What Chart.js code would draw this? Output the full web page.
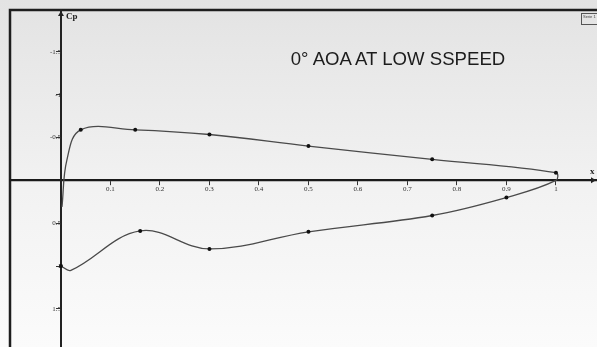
<!DOCTYPE html>
<html>
<head>
<meta charset="utf-8">
<script src="https://cdn.jsdelivr.net/npm/chart.js@4"></script>
<style>
  html, body { margin: 0; padding: 0; }
  body { width: 597px; height: 347px; overflow: hidden;
         background: linear-gradient(#e3e3e3, #f2f2f2 55%, #fbfbfb); }
  #wrap { position: relative; width: 597px; height: 347px; }
  canvas { display: block; }
  #titre { position: absolute; left: 250px; top: 48px; width: 296px; text-align: center;
           font: 18.6px "Liberation Sans", Arial, sans-serif; color: #1c1c1c; white-space: nowrap; }
  #legende { position: absolute; left: 581px; top: 13px; width: 14px; height: 10px;
             border: 1px solid #555; font: 4px "Liberation Sans", sans-serif; color: #444;
             overflow: hidden; line-height: 5px; padding-left: 1px; }
</style>
</head>
<body>
<div id="wrap">
  <canvas id="cp-chart" width="597" height="347"></canvas>
  <div id="titre">0° AOA AT LOW SSPEED</div>
  <div id="legende">Serie 1</div>
</div>
<script>
// DATI ----------------------------------------
// corda x/c, percorso: bordo d'attacco -> dorso -> bordo d'uscita -> ventre -> bordo d'attacco
var posX = [0.002, 0.012, 0.04, 0.15, 0.30, 0.50, 0.75, 1.0, 1.0, 0.90, 0.75, 0.50, 0.30, 0.16, 0.02, 0.0];
var valoriCp = [0.31, -0.24, -0.59, -0.59, -0.535, -0.40, -0.245, -0.09, 0.0, 0.20, 0.41, 0.60, 0.80, 0.59, 1.05, 1.0];
var conMarker = [0, 0, 1, 1, 1, 1, 1, 1, 0, 1, 1, 1, 1, 1, 0, 1];
var ticksX = [0.1, 0.2, 0.3, 0.4, 0.5, 0.6, 0.7, 0.8, 0.9, 1];
var ticksY = [-1.5, -1, -0.5, 0.5, 1, 1.5];

var punti = posX.map(function(x, i){ return {x: x, y: valoriCp[i]}; });

// cornice, frecce ed etichette degli assi
var assiPlugin = {
  id: 'assi',
  beforeDraw: function(chart){
    var ctx = chart.ctx, a = chart.chartArea;
    ctx.save();
    ctx.strokeStyle = '#1e1e1e';
    ctx.lineWidth = 2.5;
    ctx.beginPath();
    ctx.moveTo(a.left, chart.height);
    ctx.lineTo(a.left, a.top);
    ctx.lineTo(chart.width, a.top);
    ctx.stroke();
    ctx.restore();
  },
  afterDraw: function(chart){
    var ctx = chart.ctx, a = chart.chartArea;
    var x0 = chart.scales.x.getPixelForValue(0);
    var y0 = chart.scales.y.getPixelForValue(0);
    ctx.save();
    // prolunga l'asse y fino al bordo
    ctx.strokeStyle = '#222';
    ctx.lineWidth = 2;
    ctx.beginPath();
    ctx.moveTo(x0, a.bottom - 1);
    ctx.lineTo(x0, chart.height);
    ctx.stroke();
    ctx.fillStyle = '#222';
    // freccia asse y
    ctx.beginPath();
    ctx.moveTo(x0, a.top + 1);
    ctx.lineTo(x0 - 3, a.top + 6);
    ctx.lineTo(x0 + 3, a.top + 6);
    ctx.fill();
    // freccia asse x
    ctx.beginPath();
    ctx.moveTo(a.right - 1, y0);
    ctx.lineTo(a.right - 6, y0 - 3);
    ctx.lineTo(a.right - 6, y0 + 3);
    ctx.fill();
    ctx.font = 'bold 9px "Liberation Serif", serif';
    ctx.fillText('Cp', x0 + 5, a.top + 9);
    ctx.fillText('x', a.right - 7, y0 - 6);
    ctx.restore();
  }
};

var ctx = document.getElementById('cp-chart');
var chart = new Chart(ctx, {
  type: 'scatter',
  data: {
    datasets: [{
      label: 'Cp',
      data: punti,
      showLine: true,
      tension: 0.38,
      borderColor: '#4a4a4a',
      borderWidth: 1.3,
      backgroundColor: '#111',
      pointBorderWidth: 0,
      pointRadius: conMarker.map(function(m){ return m ? 2 : 0; })
    }]
  },
  options: {
    responsive: false,
    animation: false,
    layout: { autoPadding: false, padding: { left: 10, top: 10, right: 0, bottom: 0 } },
    plugins: { legend: { display: false }, tooltip: { enabled: false } },
    scales: {
      x: {
        type: 'linear',
        position: { y: 0 },
        min: -0.103,
        max: 1.083,
        afterBuildTicks: function(scale){ scale.ticks = ticksX.map(function(v){ return {value: v}; }); },
        grid: { display: true, drawOnChartArea: false, drawTicks: true, tickLength: 4, color: '#333' },
        border: { display: true, color: '#1a1a1a', width: 2.2 },
        ticks: {
          padding: 1,
          maxRotation: 0,
          autoSkip: false,
          color: '#333',
          font: { family: '"Liberation Serif", serif', size: 7 },
          callback: function(v){ return String(v); }
        }
      },
      y: {
        type: 'linear',
        position: { x: 0 },
        reverse: true,
        min: -1.988,
        max: 1.884,
        afterBuildTicks: function(scale){ scale.ticks = ticksY.map(function(v){ return {value: v}; }); },
        grid: { display: true, drawOnChartArea: false, drawTicks: true, tickLength: 4, color: '#333' },
        border: { display: true, color: '#222', width: 2 },
        ticks: {
          padding: 1,
          autoSkip: false,
          color: '#333',
          font: { family: '"Liberation Serif", serif', size: 7 },
          callback: function(v){ return String(v); }
        }
      }
    }
  },
  plugins: [assiPlugin]
});
</script>
</body>
</html>
